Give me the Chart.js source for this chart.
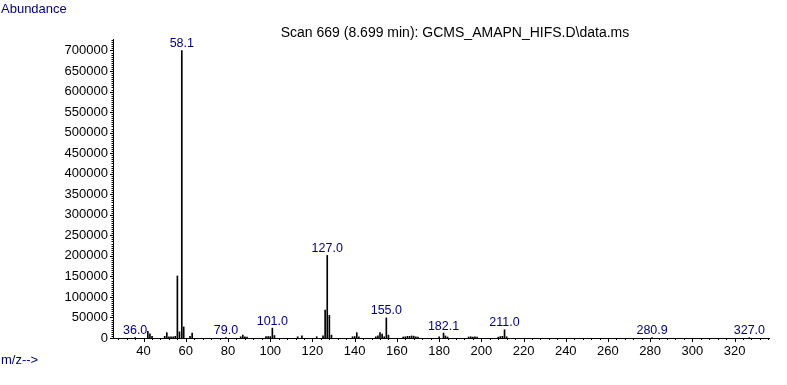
<!DOCTYPE html>
<html>
<head>
<meta charset="utf-8">
<title>Scan 669</title>
<script src="https://cdn.jsdelivr.net/npm/chart.js@4/dist/chart.umd.min.js"></script>
<style>
    html, body { margin: 0; padding: 0; background: #ffffff; }
    #wrap { width: 787px; height: 385px; }
</style>
</head>
<body>
<div id="wrap"><canvas id="spectrumChart" width="787" height="385"></canvas></div>
<script>
// Data spektrum (m/z dan abundance)
const mzValues = [
    36.0, 42, 43, 44, 50, 51, 52, 53, 54, 55, 56, 57, 58.1, 59, 62, 63,
    79.0, 86, 87, 88, 89, 98, 99, 100, 101.0, 102, 113, 115, 122, 125,
    126, 127.0, 128, 129, 139, 140, 141, 142, 150, 151, 152, 153, 154, 155.0, 156,
    163, 164, 165, 166, 167, 168, 169, 170, 180, 182.1, 183, 184,
    194, 195, 196, 197, 198, 208, 209, 210, 211.0, 212, 280.9, 327.0
];
const abundanceValues = [
    800, 16000, 10000, 4000, 4000, 13000, 3000, 3000, 3000, 4000, 151000, 15000, 700000, 27000, 4000, 12000,
    800, 3000, 7000, 3000, 2500, 3500, 3500, 3500, 24000, 6000, 3000, 5000, 3000, 5000,
    68000, 201000, 55000, 7000, 3000, 3500, 13000, 3000, 3000, 5000, 13000, 9500, 3000, 49000, 7000,
    2500, 3000, 4000, 4000, 5000, 4500, 3000, 2000, 3000, 12000, 5000, 2500,
    2500, 3000, 2500, 3000, 2000, 2000, 3500, 4000, 20000, 3000, 800, 800
];
// Puncak yang diberi label
const labelledPeaks = [36.0, 58.1, 79.0, 101.0, 127.0, 155.0, 182.1, 211.0, 280.9, 327.0];

// Label tick sumbu
const xTickValues = [40, 60, 80, 100, 120, 140, 160, 180, 200, 220, 240, 260, 280, 300, 320];
const yTickValues = [0, 50000, 100000, 150000, 200000, 250000, 300000, 350000,
    400000, 450000, 500000, 550000, 600000, 650000, 700000];

const xMin = 25.5, xMax = 336.3;
const yMax = 728000;
const xMinorStep = 4, xMajorStep = 20;
const yMinorStep = 5000, yMajorStep = 50000;

const titleText = 'Scan 669 (8.699 min): GCMS_AMAPN_HIFS.D\\data.ms';
const navy = '#000080';
const baseFont = '"Liberation Sans", Arial, sans-serif';

function isStep(v, step) {
    const r = Math.abs(v / step - Math.round(v / step));
    return r < 1e-6;
}

// Plugin: tick kecil/besar di sumbu + teks tambahan
const spectrumDecor = {
    id: 'spectrumDecor',
    afterDraw(chart) {
        const ctx = chart.ctx;
        const area = chart.chartArea;
        const xs = chart.scales.x;
        const ys = chart.scales.y;

        ctx.save();
        ctx.strokeStyle = '#000000';
        ctx.lineWidth = 1;
        ctx.beginPath();
        // tick sumbu x (minor tiap 4, mayor tiap 20)
        for (let v = Math.ceil(xs.min / xMinorStep) * xMinorStep; v <= xs.max; v += xMinorStep) {
            const px = Math.round(xs.getPixelForValue(v)) + 0.5;
            const len = isStep(v, xMajorStep) ? 4 : 2;
            ctx.moveTo(px, area.bottom);
            ctx.lineTo(px, area.bottom + len);
        }
        // tick sumbu y (minor tiap 5000, mayor tiap 50000)
        for (let v = 0; v <= ys.max; v += yMinorStep) {
            const py = Math.round(ys.getPixelForValue(v)) + 0.5;
            const len = isStep(v, yMajorStep) ? 3 : 1.5;
            ctx.moveTo(area.left, py);
            ctx.lineTo(area.left - len, py);
        }
        ctx.stroke();

        // Label m/z di atas puncak
        ctx.fillStyle = navy;
        ctx.font = '12.5px ' + baseFont;
        ctx.textAlign = 'center';
        ctx.textBaseline = 'alphabetic';
        labelledPeaks.forEach(function(mz) {
            const i = mzValues.indexOf(mz);
            if (i < 0) return;
            const px = xs.getPixelForValue(mz);
            const py = ys.getPixelForValue(abundanceValues[i]);
            ctx.fillText(mz.toFixed(1), px, py - 3.5);
        });

        // Judul scan
        ctx.fillStyle = '#000000';
        ctx.font = '14px ' + baseFont;
        ctx.fillText(titleText, (area.left + area.right) / 2 + 14, 37);

        // Judul sumbu
        ctx.fillStyle = navy;
        ctx.font = '13px ' + baseFont;
        ctx.textAlign = 'left';
        ctx.fillText('Abundance', 1, 13);
        ctx.fillText('m/z-->', 1, 364);
        ctx.restore();
    }
};

document.addEventListener('DOMContentLoaded', function() {
    const ctx = document.getElementById('spectrumChart');
    if (!ctx) return;

    const points = mzValues.map(function(mz, i) {
        return { x: mz, y: abundanceValues[i] };
    });

    new Chart(ctx.getContext('2d'), {
        type: 'bar',
        data: {
            datasets: [{
                data: points,
                backgroundColor: '#000000',
                borderWidth: 0,
                barThickness: 1
            }]
        },
        options: {
            responsive: false,
            animation: false,
            devicePixelRatio: 1,
            layout: {
                padding: { left: 0, right: 18, top: 39, bottom: 17 }
            },
            plugins: {
                legend: { display: false },
                tooltip: { enabled: false },
                title: { display: false }
            },
            scales: {
                x: {
                    type: 'linear',
                    min: xMin,
                    max: xMax,
                    offset: false,
                    grid: { display: false, drawTicks: false, offset: false },
                    border: { display: true, color: '#000000', width: 1 },
                    ticks: {
                        autoSkip: false,
                        maxRotation: 0,
                        padding: 6,
                        color: '#000000',
                        font: { family: baseFont, size: 13 },
                        callback: function(v) { return String(v); }
                    },
                    afterBuildTicks: function(scale) {
                        scale.ticks = xTickValues.map(function(v) { return { value: v }; });
                    },
                    afterFit: function(scale) { scale.height = 30; }
                },
                y: {
                    min: 0,
                    max: yMax,
                    grid: { display: false, drawTicks: false },
                    border: { display: true, color: '#000000', width: 1 },
                    ticks: {
                        autoSkip: false,
                        padding: 5,
                        color: '#000000',
                        font: { family: baseFont, size: 13 },
                        callback: function(v) { return String(v); }
                    },
                    afterBuildTicks: function(scale) {
                        scale.ticks = yTickValues.map(function(v) { return { value: v }; });
                    },
                    afterFit: function(scale) { scale.width = 113; }
                }
            }
        },
        plugins: [spectrumDecor]
    });
});
</script>
</body>
</html>
